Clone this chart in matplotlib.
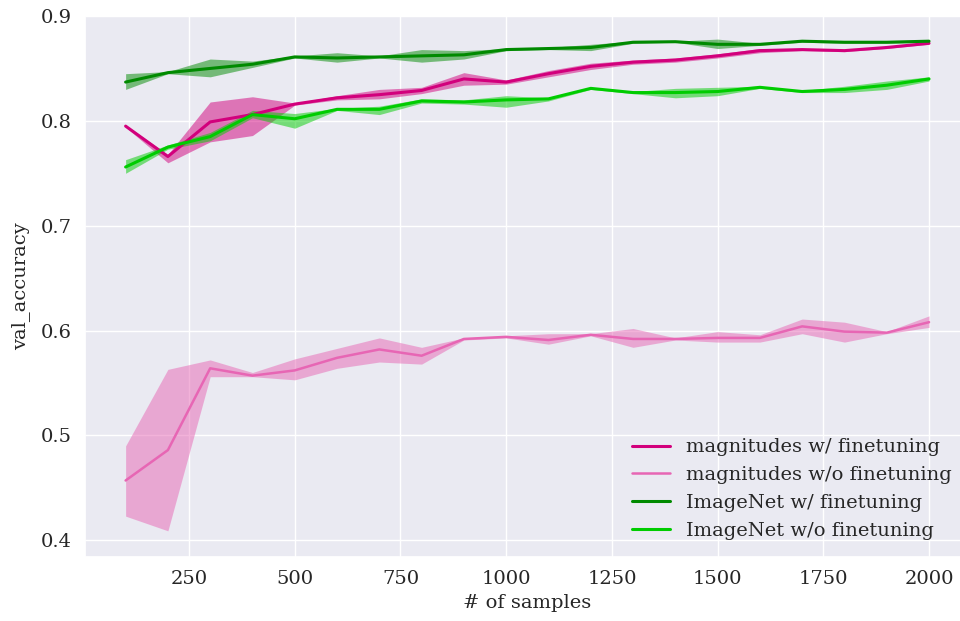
import numpy as np
import matplotlib
matplotlib.use("Agg")
import matplotlib.pyplot as plt
import seaborn as sns

sns.set_theme(style="darkgrid")
plt.rcParams["font.family"] = ["DejaVu Serif"]

samples = np.arange(100, 2001, 100)

# mean validation accuracy per run group, with min/max across seeds
mag_ft = [0.795, 0.766, 0.799, 0.806, 0.816, 0.822, 0.825, 0.829, 0.840, 0.837,
          0.845, 0.852, 0.856, 0.858, 0.862, 0.867, 0.868, 0.867, 0.870, 0.874]
mag_ft_lo = [0.794, 0.760, 0.780, 0.786, 0.815, 0.820, 0.821, 0.826, 0.834, 0.835,
             0.842, 0.849, 0.854, 0.856, 0.860, 0.865, 0.867, 0.866, 0.869, 0.873]
mag_ft_hi = [0.796, 0.768, 0.818, 0.823, 0.817, 0.824, 0.830, 0.832, 0.846, 0.839,
             0.848, 0.855, 0.858, 0.860, 0.864, 0.869, 0.869, 0.868, 0.871, 0.875]

mag_noft = [0.457, 0.486, 0.564, 0.557, 0.562, 0.574, 0.582, 0.576, 0.592, 0.594,
            0.591, 0.596, 0.592, 0.592, 0.593, 0.593, 0.604, 0.599, 0.598, 0.608]
mag_noft_lo = [0.423, 0.409, 0.556, 0.556, 0.553, 0.564, 0.570, 0.568, 0.591, 0.593,
               0.587, 0.595, 0.584, 0.591, 0.589, 0.589, 0.597, 0.589, 0.597, 0.603]
mag_noft_hi = [0.490, 0.563, 0.572, 0.560, 0.573, 0.583, 0.593, 0.584, 0.593, 0.595,
               0.597, 0.597, 0.602, 0.593, 0.599, 0.596, 0.611, 0.608, 0.599, 0.614]

inet_ft = [0.837, 0.846, 0.850, 0.854, 0.861, 0.860, 0.861, 0.862, 0.863, 0.868,
           0.869, 0.870, 0.875, 0.8755, 0.873, 0.873, 0.876, 0.875, 0.875, 0.876]
inet_ft_lo = [0.830, 0.845, 0.842, 0.851, 0.860, 0.856, 0.860, 0.856, 0.859, 0.867,
              0.868, 0.867, 0.874, 0.875, 0.869, 0.872, 0.875, 0.874, 0.874, 0.875]
inet_ft_hi = [0.845, 0.847, 0.859, 0.857, 0.862, 0.865, 0.862, 0.868, 0.867, 0.869,
              0.870, 0.873, 0.876, 0.876, 0.878, 0.874, 0.877, 0.876, 0.876, 0.877]

inet_noft = [0.756, 0.775, 0.785, 0.806, 0.802, 0.811, 0.811, 0.819, 0.818, 0.820,
             0.821, 0.831, 0.827, 0.827, 0.828, 0.832, 0.828, 0.830, 0.834, 0.840]
inet_noft_lo = [0.750, 0.773, 0.781, 0.803, 0.793, 0.810, 0.806, 0.817, 0.816, 0.813,
                0.819, 0.830, 0.826, 0.822, 0.824, 0.831, 0.827, 0.827, 0.830, 0.838]
inet_noft_hi = [0.763, 0.777, 0.789, 0.810, 0.807, 0.812, 0.814, 0.821, 0.820, 0.824,
                0.822, 0.832, 0.828, 0.831, 0.832, 0.833, 0.829, 0.833, 0.838, 0.842]

series = [
    ("magnitudes w/ finetuning", mag_ft, mag_ft_lo, mag_ft_hi, "#d2007c", 2.2),
    ("magnitudes w/o finetuning", mag_noft, mag_noft_lo, mag_noft_hi, "#e766b4", 1.8),
    ("ImageNet w/ finetuning", inet_ft, inet_ft_lo, inet_ft_hi, "#008a00", 2.2),
    ("ImageNet w/o finetuning", inet_noft, inet_noft_lo, inet_noft_hi, "#00cc00", 2.2),
]

fig = plt.figure(figsize=(9.6, 6.21), dpi=100)
ax = fig.add_axes([0.089, 0.103, 0.9206, 0.8712])

for label, mean, lo, hi, color, lw in series:
    ax.plot(samples, mean, color=color, lw=lw, label=label)
    ax.fill_between(samples, lo, hi, color=color, alpha=0.5, lw=0)

ax.set_xlim(5, 2095)
ax.set_ylim(0.384, 0.9)
ax.set_xticks([250, 500, 750, 1000, 1250, 1500, 1750, 2000])
ax.set_yticks([0.4, 0.5, 0.6, 0.7, 0.8, 0.9])
ax.tick_params(labelsize=14)
ax.set_xlabel("# of samples", fontsize=14)
ax.set_ylabel("val_accuracy", fontsize=14, labelpad=8)
ax.legend(loc="lower right", fontsize=14, frameon=False)

fig.savefig("out.png", dpi=100)
